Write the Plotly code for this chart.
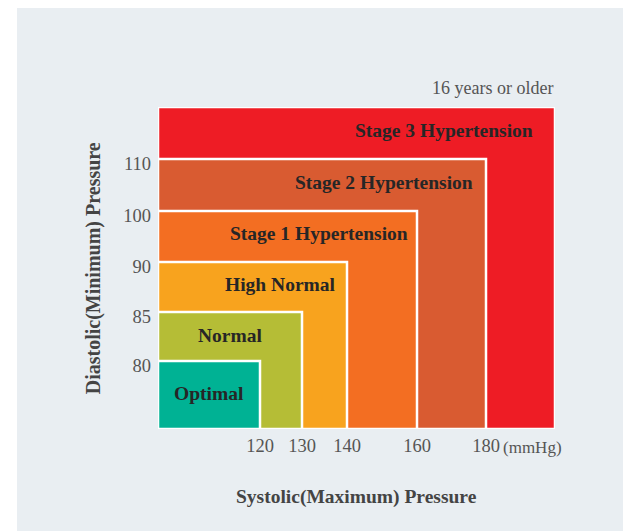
import numpy as np
import plotly.graph_objects as go

# ---------------- data ----------------
categories = ["Optimal", "Normal", "High Normal",
              "Stage 1 Hypertension", "Stage 2 Hypertension", "Stage 3 Hypertension"]
systolic_upper = [120, 130, 140, 160, 180, 200]   # 200 = open-ended top class
diastolic_upper = [80, 85, 90, 100, 110, 120]     # 120 = open-ended top class
x_ticks = [120, 130, 140, 160, 180]
y_ticks = [80, 85, 90, 100, 110]
colors = ["#00B294", "#B5BD36", "#F8A31E", "#F36E22", "#D95B31", "#EE1C25"]

# ---------------- non-linear (chart) scales ----------------
SYS_ANCH = [0, 120, 130, 140, 160, 180, 200]
SYS_POS = [0, 102, 144, 189, 259, 328, 397]
DIA_ANCH = [0, 80, 85, 90, 100, 110, 120]
DIA_POS = [0, 68, 117, 167, 218, 270, 322]


def sx(v):
    return float(np.interp(v, SYS_ANCH, SYS_POS))


def sy(v):
    return float(np.interp(v, DIA_ANCH, DIA_POS))


# label placement (fraction of box width for centre of text, vertical nudge)
label_x_frac = [0.5, 0.5, 0.65, 0.62, 0.6875, 0.72]
label_y_nudge = [1.5, 1, 3, 3, 3, 2.5]

serif = "Liberation Serif, Times New Roman, serif"
BG = "#E9EEF2"

W, H = 623, 523
L, R, T, B = 150, 76, 99, 102
PW, PH = W - L - R, H - T - B

fig = go.Figure()
# invisible trace to establish axes
fig.add_trace(go.Scatter(x=[sx(0), sx(200)], y=[sy(0), sy(120)], mode="markers",
                         marker=dict(opacity=0), hoverinfo="skip", showlegend=False))

shapes = [dict(type="rect", xref="paper", yref="paper", x0=-L / PW - 0.01, x1=(9 - L) / PW,
               y0=-B / PH - 0.01, y1=(H - 0) / PH + 0.01, fillcolor="white",
               line=dict(width=0), layer="below")]

for i in reversed(range(len(categories))):
    shapes.append(dict(type="rect", xref="x", yref="y", x0=sx(0), y0=sy(0),
                       x1=sx(systolic_upper[i]), y1=sy(diastolic_upper[i]),
                       fillcolor=colors[i], line=dict(color="white", width=2.5),
                       layer="above"))

annotations = []
for i, cat in enumerate(categories):
    y_lo = sy(diastolic_upper[i - 1]) if i > 0 else sy(0)
    y_hi = sy(diastolic_upper[i])
    x_c = sx(systolic_upper[i]) * label_x_frac[i]
    annotations.append(dict(x=x_c, y=(y_lo + y_hi) / 2 + label_y_nudge[i], xref="x", yref="y",
                            text="<b>%s</b>" % cat, showarrow=False,
                            font=dict(family=serif, size=19.5, color="#262626"),
                            xanchor="center", yanchor="middle"))

annotations += [
    dict(x=1.0, y=1.059, xref="paper", yref="paper", text="16 years or older",
         showarrow=False, xanchor="right", yanchor="middle",
         font=dict(family=serif, size=18, color="#555555")),
    dict(x=0.865, y=-0.058, xref="paper", yref="paper", text="(mmHg)",
         showarrow=False, xanchor="left", yanchor="middle",
         font=dict(family=serif, size=17, color="#555555")),
    dict(x=0.5, y=-0.21, xref="paper", yref="paper",
         text="<b>Systolic(Maximum) Pressure</b>", showarrow=False,
         xanchor="center", yanchor="middle",
         font=dict(family=serif, size=19.5, color="#444444")),
    dict(x=-0.163, y=0.5, xref="paper", yref="paper",
         text="<b>Diastolic(Minimum) Pressure</b>", showarrow=False, textangle=-90,
         xanchor="center", yanchor="middle",
         font=dict(family=serif, size=20, color="#444444")),
]

fig.update_layout(
    width=W, height=H,
    margin=dict(l=L, r=R, t=T, b=B, pad=0),
    paper_bgcolor=BG, plot_bgcolor=BG,
    shapes=shapes, annotations=annotations, showlegend=False,
    xaxis=dict(range=[sx(0), sx(200)], tickvals=[sx(v) for v in x_ticks],
               ticktext=[str(v) for v in x_ticks], showgrid=False, zeroline=False,
               showline=False, ticks="", ticklabelstandoff=3,
               tickfont=dict(family=serif, size=18.5, color="#555555"), fixedrange=True),
    yaxis=dict(range=[sy(0), sy(120)], tickvals=[sy(v) for v in y_ticks],
               ticktext=[str(v) for v in y_ticks], showgrid=False, zeroline=False,
               showline=False, ticks="", ticklabelstandoff=6, ticklabelshift=5,
               tickfont=dict(family=serif, size=18.5, color="#555555"), fixedrange=True),
)

fig.write_html("out.html")
